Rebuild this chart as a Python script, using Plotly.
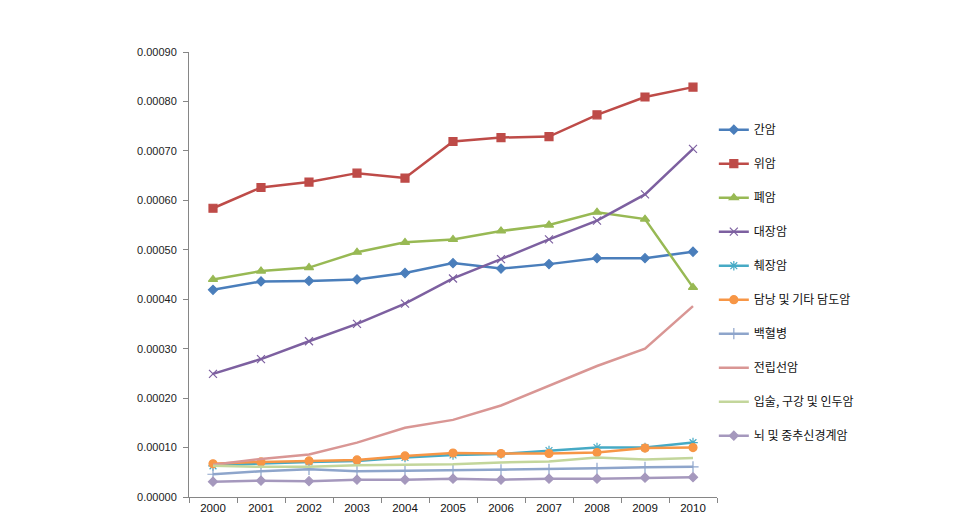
import plotly.graph_objects as go

years = ["2000", "2001", "2002", "2003", "2004", "2005", "2006", "2007", "2008", "2009", "2010"]

liver = [0.000419, 0.000436, 0.000437, 0.000440, 0.000453, 0.000473, 0.000462, 0.000471, 0.000483, 0.000483, 0.000496]
stomach = [0.000584, 0.000626, 0.000637, 0.000655, 0.000645, 0.000719, 0.000727, 0.000729, 0.000773, 0.000809, 0.000829]
lung = [0.000440, 0.000457, 0.000464, 0.000495, 0.000515, 0.000521, 0.000538, 0.000550, 0.000576, 0.000562, 0.000424]
colorectal = [0.000249, 0.000279, 0.000315, 0.000350, 0.000391, 0.000442, 0.000481, 0.000521, 0.000559, 0.000612, 0.000704]
pancreas = [0.000063, 0.000068, 0.000071, 0.000073, 0.000080, 0.000085, 0.000087, 0.000094, 0.000100, 0.000100, 0.000110]
gallbladder = [0.000067, 0.000071, 0.000073, 0.000075, 0.000083, 0.000089, 0.000088, 0.000088, 0.000090, 0.000099, 0.000100]
leukemia = [0.000046, 0.000052, 0.000056, 0.000052, 0.000053, 0.000054, 0.000055, 0.000056, 0.000058, 0.000060, 0.000061]
prostate = [0.000065, 0.000077, 0.000086, 0.000110, 0.000140, 0.000156, 0.000185, 0.000225, 0.000265, 0.000300, 0.000386]
lip_oral = [0.000063, 0.000061, 0.000061, 0.000064, 0.000065, 0.000066, 0.000070, 0.000072, 0.000080, 0.000076, 0.000079]
brain = [0.000031, 0.000033, 0.000032, 0.000035, 0.000035, 0.000037, 0.000035, 0.000037, 0.000037, 0.000039, 0.000040]

names = ["간암", "위암", "폐암", "대장암", "췌장암", "담낭 및 기타 담도암", "백혈병", "전립선암", "입술, 구강 및 인두암", "뇌 및 중추신경계암"]
series = [liver, stomach, lung, colorectal, pancreas, gallbladder, leukemia, prostate, lip_oral, brain]
colors = ["#4A7EBB", "#BE4B48", "#98B954", "#7D60A0", "#46AAC5", "#F79646", "#8EA5CB", "#D99694", "#C3D69B", "#A598BD"]
symbols = ["diamond", "square", "triangle-up", "x-thin-open", "asterisk-open", "circle", "cross-thin-open", None, None, "diamond"]
sizes = [7, 8, 8, 8, 8, 8, 8, 0, 0, 7]

fig = go.Figure()
for i, (nm, ys) in enumerate(zip(names, series)):
    sym = symbols[i]
    fig.add_trace(go.Scatter(
        x=years, y=ys, name=nm, legendgroup=str(i),
        mode="lines+markers" if sym else "lines",
        line=dict(color=colors[i], width=2.5),
        marker=dict(symbol=sym, size=sizes[i], color=colors[i],
                    line=dict(color=colors[i], width=1.2)) if sym else None,
    ))

fig.update_layout(
    width=956, height=523,
    margin=dict(l=181, r=247, t=44, b=34),
    paper_bgcolor="white", plot_bgcolor="white",
    font=dict(family="Liberation Sans, Arial, sans-serif", color="#222222"),
    legend=dict(x=0.994, xanchor="left", y=0.858, yanchor="top",
                font=dict(family="Noto Sans CJK KR", size=12, color="#111111"),
                tracegroupgap=15, itemwidth=30, bgcolor="rgba(0,0,0,0)"),
    showlegend=True,
)
fig.update_xaxes(
    type="category", tickson="boundaries", ticks="outside", ticklen=5,
    tickcolor="#868686", showline=True, linecolor="#868686", linewidth=1,
    showgrid=False, range=[-0.5, 10.5],
    tickfont=dict(size=11.5, color="#111111", family="Liberation Sans, Arial, sans-serif"),
)
fig.update_yaxes(
    range=[0, 0.0009], dtick=0.0001, tick0=0, tickformat=".5f",
    ticks="outside", ticklen=5, tickcolor="#868686", ticklabelstandoff=4,
    showline=True, linecolor="#868686", linewidth=1, showgrid=False, zeroline=False,
    tickfont=dict(size=11, color="#222222", family="Liberation Sans, Arial, sans-serif"),
)

fig.write_html("out.html")
